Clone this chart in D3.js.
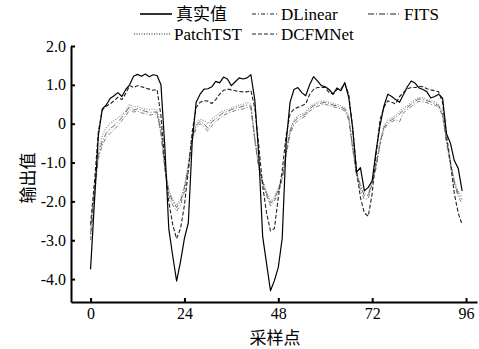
<!DOCTYPE html>
<html><head><meta charset="utf-8">
<script src="https://cdn.jsdelivr.net/npm/d3@7"></script>
<style>
html,body{margin:0;padding:0;background:#fff;}
svg{display:block;}
</style></head>
<body>
<svg id="c" width="479" height="349"></svg>
<script>
const xTicks = [0, 24, 48, 72, 96];
const yTicks = [2, 1, 0, -1, -2, -3, -4];
const yTickLabels = ["2.0", "1.0", "0", "-1.0", "-2.0", "-3.0", "-4.0"];
const seriesNames = ["真实值", "DLinear", "FITS", "PatchTST", "DCFMNet"];

const truth = [-3.75,-2.0,-0.3,0.38,0.48,0.65,0.72,0.8,0.7,0.88,1.0,1.22,1.27,1.22,1.28,1.21,1.26,1.24,1.0,-0.62,-2.7,-3.4,-4.05,-3.55,-2.95,-2.55,-0.45,0.55,0.76,0.89,0.9,0.95,1.09,1.05,1.2,1.15,0.98,1.08,1.18,1.15,1.18,1.26,0.6,-0.8,-2.9,-3.6,-4.3,-4.04,-3.7,-2.95,-0.5,0.55,0.88,0.93,0.8,0.72,1.0,1.21,1.1,0.98,0.95,0.88,0.76,0.92,0.85,1.06,0.68,-0.1,-1.25,-1.13,-1.73,-1.64,-1.47,-0.7,-0.05,0.45,0.76,0.7,0.62,0.55,0.75,0.95,1.1,1.04,0.92,0.88,0.82,0.66,0.7,0.76,0.66,-0.26,-0.5,-0.95,-1.15,-1.73];
const dcfmnet = [-2.6,-1.5,-0.2,0.35,0.45,0.51,0.59,0.68,0.62,0.78,0.98,0.93,0.98,0.95,0.92,0.89,0.86,0.88,0.2,-1.03,-2.0,-2.6,-2.96,-2.7,-2.1,-1.2,-0.2,0.42,0.55,0.59,0.58,0.52,0.62,0.76,0.86,0.89,0.87,0.85,0.83,0.82,0.82,0.85,0.4,-0.55,-1.6,-2.3,-2.76,-2.7,-1.9,-1.2,-0.3,0.25,0.38,0.42,0.46,0.51,0.75,0.88,0.93,0.93,0.93,0.8,0.76,0.88,0.9,1.02,0.76,-0.1,-1.2,-1.9,-2.3,-2.38,-1.8,-0.8,0.1,0.42,0.59,0.55,0.51,0.7,0.8,0.9,0.93,0.93,0.96,0.95,0.9,0.87,0.85,0.82,0.55,-0.3,-1.0,-1.8,-2.3,-2.6];
const patchtst = [-2.7,-1.6,-0.7,-0.3,-0.1,0.0,0.08,0.15,0.22,0.33,0.5,0.42,0.45,0.4,0.38,0.36,0.38,0.35,-0.1,-1.05,-1.7,-1.95,-2.1,-1.95,-1.6,-1.0,-0.3,0.02,0.12,0.08,0.0,0.12,0.2,0.28,0.34,0.36,0.4,0.44,0.48,0.5,0.55,0.5,-0.35,-1.05,-1.45,-1.75,-2.0,-1.9,-1.65,-1.35,-0.7,-0.15,0.1,0.2,0.25,0.3,0.42,0.5,0.55,0.58,0.58,0.56,0.52,0.5,0.46,0.42,0.2,-0.55,-1.25,-1.55,-1.8,-1.82,-1.45,-1.05,-0.45,-0.05,0.1,0.15,0.22,0.3,0.4,0.46,0.55,0.62,0.68,0.66,0.62,0.6,0.56,0.5,0.3,-0.4,-0.95,-1.45,-1.75,-1.9];
const dlinear = [-3.0,-1.85,-0.9,-0.55,-0.35,-0.25,-0.15,-0.05,0.08,0.2,0.36,0.3,0.32,0.28,0.26,0.22,0.24,0.25,-0.28,-1.2,-1.85,-2.1,-2.25,-2.1,-1.75,-1.2,-0.42,-0.12,0.0,-0.08,-0.2,-0.05,0.05,0.14,0.22,0.26,0.3,0.34,0.36,0.38,0.42,0.4,-0.45,-1.15,-1.55,-1.85,-2.12,-2.0,-1.75,-1.45,-0.8,-0.28,-0.02,0.08,0.14,0.2,0.32,0.4,0.45,0.48,0.5,0.47,0.44,0.41,0.38,0.33,0.1,-0.65,-1.35,-1.7,-1.95,-1.92,-1.55,-1.15,-0.55,-0.15,0.0,0.05,0.1,0.05,0.28,0.36,0.44,0.52,0.58,0.56,0.54,0.5,0.48,0.42,0.2,-0.5,-1.05,-1.55,-1.88,-2.05];
const fits = [-2.85,-1.7,-0.8,-0.45,-0.25,-0.13,-0.05,0.05,0.16,0.28,0.45,0.35,0.38,0.35,0.32,0.29,0.3,0.3,-0.2,-1.13,-1.75,-2.0,-2.16,-2.0,-1.65,-1.1,-0.35,-0.05,0.06,0.0,-0.12,0.05,0.12,0.21,0.29,0.31,0.36,0.4,0.42,0.45,0.48,0.45,-0.4,-1.1,-1.5,-1.8,-2.05,-1.94,-1.7,-1.4,-0.75,-0.2,0.05,0.15,0.2,0.25,0.38,0.46,0.51,0.53,0.55,0.52,0.48,0.46,0.42,0.38,0.16,-0.6,-1.3,-1.6,-1.85,-1.85,-1.5,-1.1,-0.5,-0.1,0.05,0.1,0.16,0.25,0.35,0.42,0.5,0.58,0.64,0.62,0.59,0.56,0.52,0.46,0.25,-0.44,-1.0,-1.5,-1.81,-1.95];

const svg = d3.select("#c");
const serif = "'Liberation Serif','Times New Roman',serif";
const cjk = "'Noto Sans CJK SC','Noto Sans CJK JP',sans-serif";

const x = d3.scaleLinear().domain([-5, 98.8]).range([71, 477]);
const y = d3.scaleLinear().domain([-4.59, 2.0]).range([302, 46]);

// axes
const xAxis = d3.axisBottom(x).tickValues(xTicks).tickSizeInner(-4).tickSizeOuter(0).tickPadding(6);
const gx = svg.append("g").attr("transform", "translate(0,302)").call(xAxis);
gx.select(".domain").attr("stroke", "#000").attr("stroke-width", 2);
gx.selectAll(".tick line").attr("stroke", "#000").attr("stroke-width", 2);
gx.selectAll(".tick text").attr("font-family", serif).attr("font-size", 16).attr("fill", "#000");

const yAxis = d3.axisLeft(y).tickValues(yTicks).tickFormat((d, i) => yTickLabels[i]).tickSizeInner(-4).tickSizeOuter(0).tickPadding(5);
const gy = svg.append("g").attr("transform", "translate(71,0)").call(yAxis);
gy.select(".domain").attr("stroke", "#000").attr("stroke-width", 2);
gy.selectAll(".tick line").attr("stroke", "#000").attr("stroke-width", 2);
gy.selectAll(".tick text").attr("font-family", serif).attr("font-size", 16).attr("fill", "#000");

// titles
svg.append("text").attr("x", 275).attr("y", 344).attr("text-anchor", "middle")
  .attr("font-family", cjk).attr("font-size", 17).attr("fill", "#000").text("采样点");
svg.append("text").attr("transform", "translate(34,178) rotate(-90)").attr("text-anchor", "middle")
  .attr("font-family", cjk).attr("font-size", 17).attr("fill", "#000").text("输出值");

// lines
const styles = {
  "PatchTST": {data: patchtst, color: "#8a8a8a", dash: "1,1.5", w: 1.1},
  "DLinear": {data: dlinear, color: "#7a7a7a", dash: "4,2,1,2", w: 1},
  "FITS": {data: fits, color: "#6a6a6a", dash: "6,2,1,2", w: 1},
  "DCFMNet": {data: dcfmnet, color: "#222", dash: "4,2", w: 1.1},
  "真实值": {data: truth, color: "#000", dash: null, w: 1.2}
};
const line = d3.line().x((d, i) => x(i)).y(d => y(d));
["PatchTST", "DLinear", "FITS", "DCFMNet", "真实值"].forEach(k => {
  const s = styles[k];
  svg.append("path").datum(s.data).attr("d", line).attr("fill", "none")
    .attr("stroke", s.color).attr("stroke-width", s.w)
    .attr("stroke-dasharray", s.dash).attr("stroke-linejoin", "round");
});

// legend
const legendItems = [
  {name: "真实值", x1: 140, x2: 172, tx: 176, y: 14, cjk: true},
  {name: "DLinear", x1: 252, x2: 277, tx: 281, y: 14},
  {name: "FITS", x1: 368, x2: 400, tx: 404, y: 14},
  {name: "PatchTST", x1: 134, x2: 170, tx: 174, y: 34},
  {name: "DCFMNet", x1: 252, x2: 277, tx: 281, y: 34}
];
legendItems.forEach(it => {
  const s = styles[it.name];
  svg.append("line").attr("x1", it.x1).attr("x2", it.x2).attr("y1", it.y).attr("y2", it.y)
    .attr("stroke", it.name === "真实值" ? "#000" : "#222").attr("stroke-width", it.name === "真实值" ? 1.6 : 1.2)
    .attr("stroke-dasharray", s.dash);
  svg.append("text").attr("x", it.tx).attr("y", it.y + 6)
    .attr("font-family", it.cjk ? cjk : serif).attr("font-size", 17).attr("fill", "#000").text(it.name);
});
</script>
</body></html>
